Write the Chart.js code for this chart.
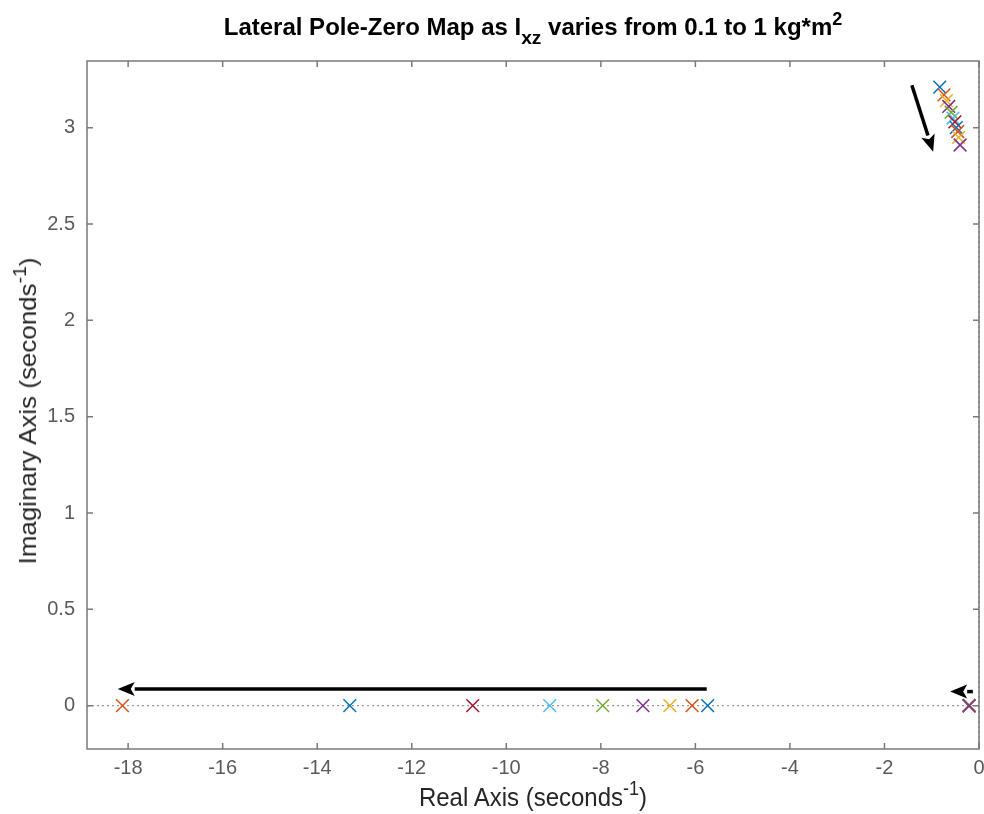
<!DOCTYPE html>
<html>
<head>
<meta charset="utf-8">
<script src="https://cdn.jsdelivr.net/npm/chart.js@4.4.0/dist/chart.umd.min.js"></script>
<style>
  body { margin: 0; background: #fff; }
  #wrap { position: relative; width: 984px; height: 814px; }
  .lbl { position: absolute; font-family: "Liberation Sans", Arial, sans-serif; color: #262626; white-space: nowrap; }
  #title { left: 87px; width: 892px; top: 13px; text-align: center; font-weight: bold; font-size: 24px; color: #000; }
  #xtitle { left: 87px; width: 892px; top: 783px; text-align: center; font-size: 24px; transform: scaleY(1.08); }
  #ytitle { left: 28px; top: 411px; font-size: 24px; transform: translate(-50%, -50%) scaleY(1.08) rotate(-90deg); }
  sub { font-size: 80%; vertical-align: -0.45em; line-height: 0; }
  sup { font-size: 75%; vertical-align: 0.55em; line-height: 0; }
</style>
</head>
<body>
<div id="wrap">
  <canvas id="pzmap" width="984" height="814"></canvas>
  <div class="lbl" id="title">Lateral Pole-Zero Map as I<sub>xz</sub> varies from 0.1 to 1 kg*m<sup>2</sup></div>
  <div class="lbl" id="xtitle">Real Axis (seconds<sup>-1</sup>)</div>
  <div class="lbl" id="ytitle">Imaginary Axis (seconds<sup>-1</sup>)</div>
</div>
<script>
// one system per Ixz step (0.1 ... 1 kg*m^2)
const systems = ['0.10', '0.19', '0.28', '0.37', '0.46', '0.55', '0.64', '0.73', '0.82', '0.91', '1.00'];
// roll mode pole (real axis), the last two are off the left of the plot
const rollPoles = [-5.74, -6.07, -6.54, -7.11, -7.96, -9.08, -10.71, -13.31, -18.12, null, null];
// spiral mode pole, all land on top of each other near the origin
const spiralPoles = [-0.21, -0.21, -0.21, -0.21, -0.21, -0.21, -0.21, -0.21, -0.21, -0.21, -0.21];
// dutch roll pair, upper half only (lower half is off the plot)
const dutchRe = [-0.83, -0.74, -0.69, -0.64, -0.59, -0.55, -0.51, -0.48, -0.45, -0.43, -0.40];
const dutchIm = [3.21, 3.17, 3.14, 3.11, 3.08, 3.05, 3.03, 3.00, 2.98, 2.95, 2.91];

const xTicks = [-18, -16, -14, -12, -10, -8, -6, -4, -2, 0];
const yTicks = [0, 0.5, 1, 1.5, 2, 2.5, 3];

// arrows showing the direction of travel as Ixz grows [x0, y0, x1, y1]
const arrows = [
	[-5.76, 0.087, -18.22, 0.087],
	[-0.13, 0.073, -0.61, 0.073],
	[-1.42, 3.22, -0.97, 2.875]
];

const colors = ['#0072BD', '#D95319', '#EDB120', '#7E2F8E', '#77AC30', '#4DBEEE', '#A2142F'];

const datasets = systems.map((s, i) => {
	let pts = [];
	if (rollPoles[i] !== null) pts.push({x: rollPoles[i], y: 0});
	pts.push({x: spiralPoles[i], y: 0});
	pts.push({x: dutchRe[i], y: dutchIm[i]});
	return {
		label: 'Ixz = ' + s,
		data: pts,
		pointStyle: 'crossRot',
		pointRadius: 9,
		pointHoverRadius: 9,
		borderWidth: 1.5,
		borderColor: colors[i % colors.length],
		backgroundColor: colors[i % colors.length],
		showLine: false,
		order: systems.length - i
	};
});

const axisColor = '#7a7a7a';

const matlabAxes = {
	id: 'matlabAxes',
	beforeDatasetsDraw(chart) {
		const {ctx, chartArea: a, scales: {x, y}} = chart;
		ctx.save();
		ctx.strokeStyle = '#999';
		ctx.lineWidth = 1.3;
		ctx.setLineDash([2, 3]);
		const y0 = y.getPixelForValue(0);
		ctx.beginPath();
		ctx.moveTo(a.left, y0);
		ctx.lineTo(a.right, y0);
		const x0 = x.getPixelForValue(0);
		ctx.moveTo(x0, a.top);
		ctx.lineTo(x0, a.bottom);
		ctx.stroke();
		ctx.restore();
	},
	afterDatasetsDraw(chart) {
		const {ctx, chartArea: a, scales: {x, y}} = chart;
		ctx.save();
		// box
		ctx.strokeStyle = axisColor;
		ctx.lineWidth = 1.5;
		ctx.strokeRect(a.left, a.top, a.right - a.left, a.bottom - a.top);
		// inward ticks
		ctx.beginPath();
		xTicks.forEach(v => {
			const px = x.getPixelForValue(v);
			ctx.moveTo(px, a.bottom);
			ctx.lineTo(px, a.bottom - 6);
			ctx.moveTo(px, a.top);
			ctx.lineTo(px, a.top + 6);
		});
		yTicks.forEach(v => {
			const py = y.getPixelForValue(v);
			ctx.moveTo(a.left, py);
			ctx.lineTo(a.left + 6, py);
			ctx.moveTo(a.right, py);
			ctx.lineTo(a.right - 6, py);
		});
		ctx.stroke();

		// arrows
		ctx.strokeStyle = '#000';
		ctx.fillStyle = '#000';
		ctx.lineWidth = 3.5;
		arrows.forEach(ar => {
			const sx = x.getPixelForValue(ar[0]), sy = y.getPixelForValue(ar[1]);
			const ex = x.getPixelForValue(ar[2]), ey = y.getPixelForValue(ar[3]);
			const ang = Math.atan2(ey - sy, ex - sx);
			const headLen = 17, headW = 7;
			const bx = ex - headLen * Math.cos(ang), by = ey - headLen * Math.sin(ang);
			ctx.beginPath();
			ctx.moveTo(sx, sy);
			ctx.lineTo(bx, by);
			ctx.stroke();
			ctx.beginPath();
			ctx.moveTo(ex, ey);
			ctx.lineTo(bx + headW * Math.sin(ang), by - headW * Math.cos(ang));
			ctx.lineTo(bx + 4 * Math.cos(ang), by + 4 * Math.sin(ang));
			ctx.lineTo(bx - headW * Math.sin(ang), by + headW * Math.cos(ang));
			ctx.closePath();
			ctx.fill();
		});
		ctx.restore();
	}
};

const tickFont = {family: '"Liberation Sans", Arial, sans-serif', size: 20};

new Chart(document.getElementById('pzmap'), {
	type: 'scatter',
	data: {datasets: datasets},
	options: {
		responsive: false,
		animation: false,
		layout: {autoPadding: false, padding: {top: 61, right: 5, left: 0, bottom: 0}},
		plugins: {
			legend: {display: false},
			title: {display: false},
			tooltip: {enabled: false}
		},
		scales: {
			x: {
				type: 'linear',
				min: -18.87,
				max: 0,
				grid: {display: false, drawTicks: false},
				border: {display: false},
				afterBuildTicks: s => { s.ticks = xTicks.map(v => ({value: v})); },
				afterFit: s => { s.height = 65; s.paddingLeft = 0; s.paddingRight = 0; },
				ticks: {
					font: tickFont,
					color: '#5a5a5a',
					padding: 7,
					maxRotation: 0,
					autoSkip: false,
					callback: v => String(v)
				}
			},
			y: {
				type: 'linear',
				min: -0.225,
				max: 3.346,
				grid: {display: false, drawTicks: false},
				border: {display: false},
				afterBuildTicks: s => { s.ticks = yTicks.map(v => ({value: v})); },
				afterFit: s => { s.width = 87; s.paddingTop = 0; s.paddingBottom = 0; },
				ticks: {
					font: tickFont,
					color: '#5a5a5a',
					padding: 12,
					autoSkip: false,
					callback: v => String(v)
				}
			}
		}
	},
	plugins: [matlabAxes]
});
</script>
</body>
</html>
